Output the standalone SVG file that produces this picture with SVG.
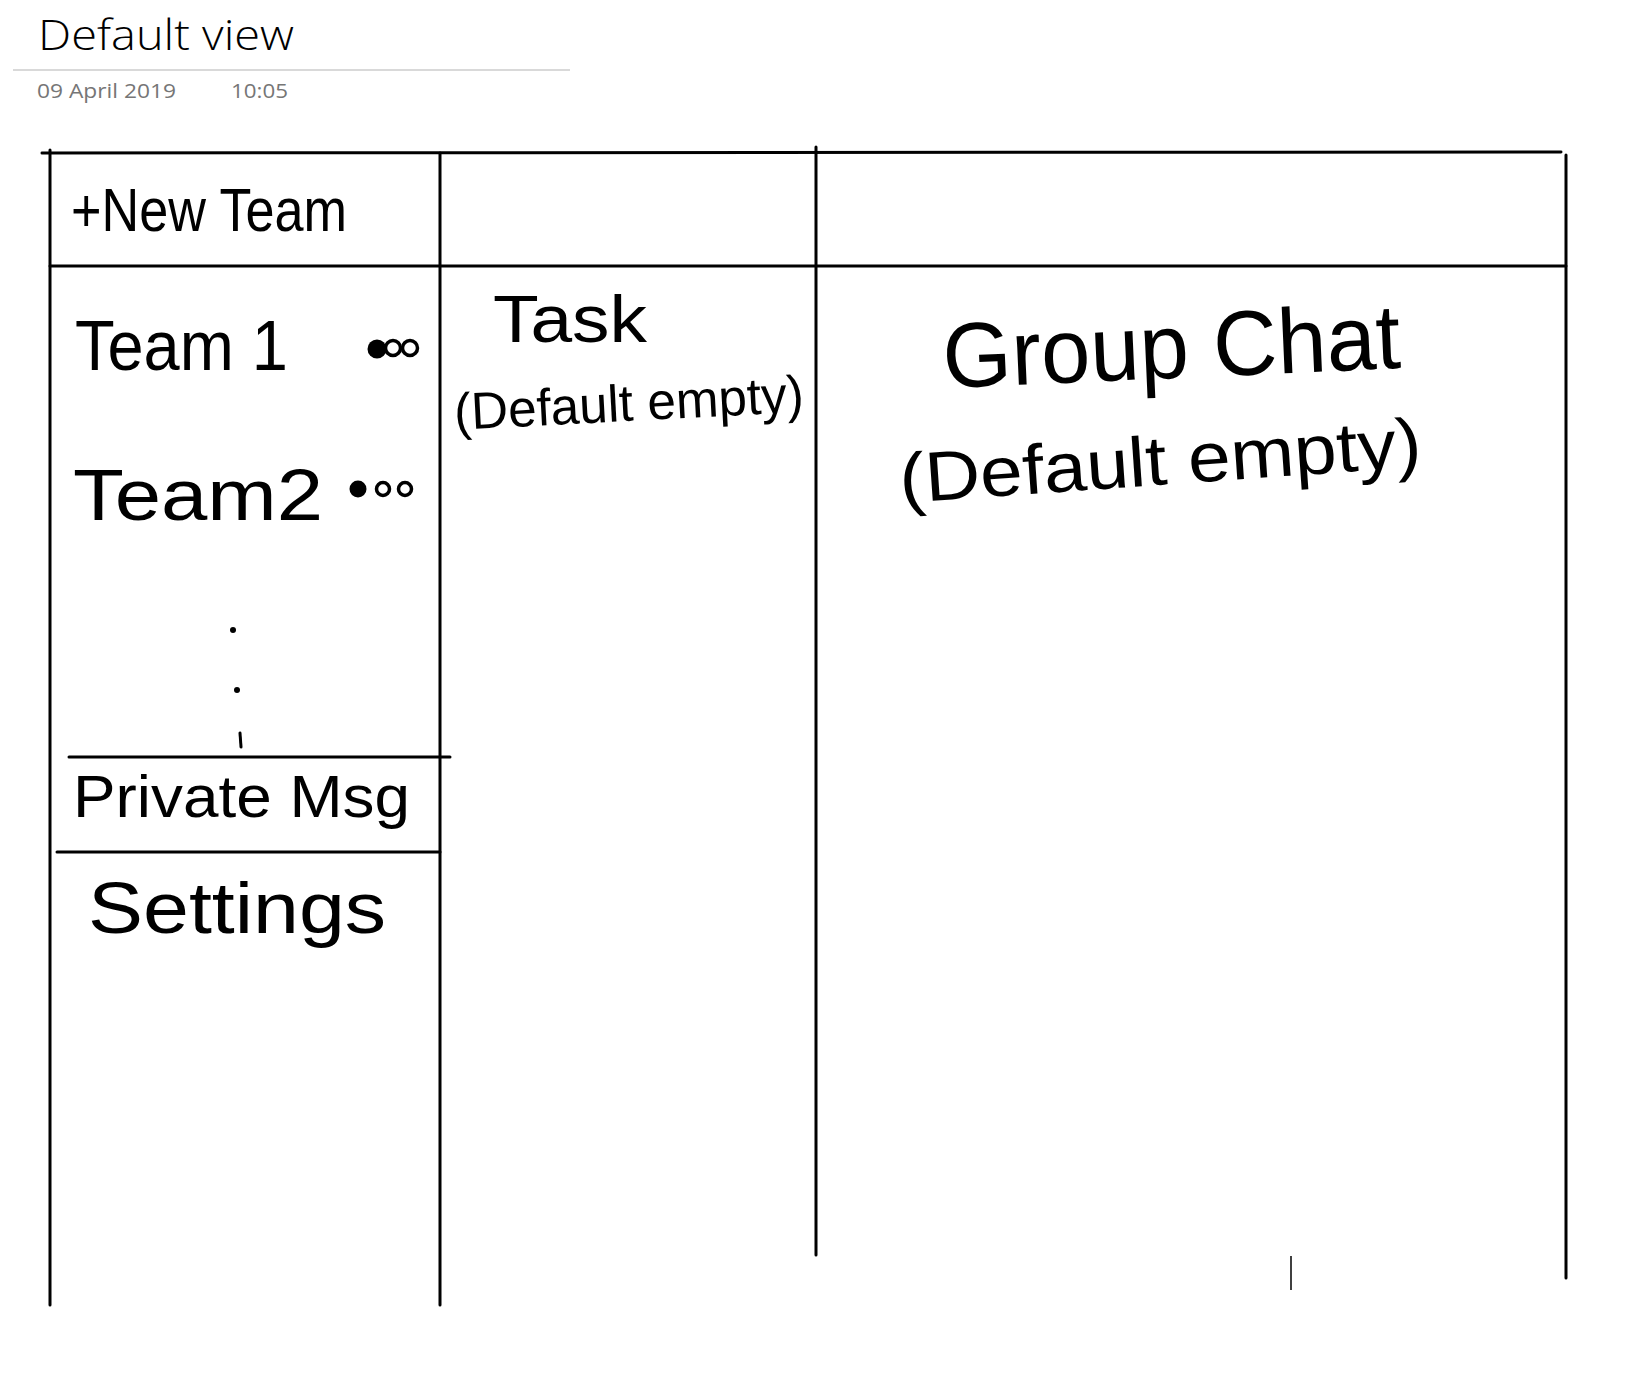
<svg xmlns="http://www.w3.org/2000/svg" width="1652" height="1398" viewBox="0 0 1652 1398">
<style>
  .ln { stroke:#000; stroke-width:3; stroke-linecap:round; fill:none; }
  .hw { font-family:"Liberation Sans","DejaVu Sans",sans-serif; fill:#000; }
  .meta { font-family:"Open Sans","Liberation Sans",sans-serif; fill:#767676; font-size:20px; }
  .dotf { fill:#000; }
  .doto { fill:none; stroke:#000; stroke-width:3.5; }
</style>
<rect width="1652" height="1398" fill="#fff"/>

<g id="page-header">
  <text x="38" y="50" font-family="Open Sans, Liberation Sans, sans-serif" font-weight="300" font-size="42" fill="#000" textLength="256" lengthAdjust="spacingAndGlyphs">Default view</text>
  <line x1="13" y1="70" x2="570" y2="70" stroke="#d9d9d9" stroke-width="2"/>
  <text class="meta" x="37" y="98" textLength="139" lengthAdjust="spacingAndGlyphs">09 April 2019</text>
  <text class="meta" x="231" y="98" textLength="57" lengthAdjust="spacingAndGlyphs">10:05</text>
</g>

<g id="connectors">
  <line class="ln" x1="42" y1="153" x2="1561" y2="152"/>
  <line class="ln" x1="50" y1="266" x2="1566" y2="266"/>
  <line class="ln" x1="50" y1="150" x2="50" y2="1305"/>
  <line class="ln" x1="440" y1="153" x2="440" y2="1305"/>
  <line class="ln" x1="816" y1="147" x2="816" y2="1255"/>
  <line class="ln" x1="1566" y1="155" x2="1566" y2="1278"/>
  <line class="ln" x1="69" y1="757" x2="450" y2="757"/>
  <line class="ln" x1="57" y1="852" x2="440" y2="852"/>
  <line x1="1291" y1="1256" x2="1291" y2="1290" stroke="#000" stroke-width="1.5"/>
</g>

<g id="new-team">
  <text class="hw" x="71" y="231" font-size="62" textLength="276" lengthAdjust="spacingAndGlyphs">+New Team</text>
</g>

<g id="team-1">
  <text class="hw" x="75" y="370" font-size="70" textLength="213" lengthAdjust="spacingAndGlyphs">Team 1</text>
  <circle class="dotf" cx="377" cy="349" r="9.5"/>
  <circle class="doto" cx="393" cy="348" r="7.5"/>
  <circle class="doto" cx="410" cy="348" r="7.5"/>
</g>

<g id="team-2">
  <text class="hw" x="73" y="520" font-size="72" textLength="250" lengthAdjust="spacingAndGlyphs">Team2</text>
  <circle class="dotf" cx="358" cy="489" r="8.5"/>
  <circle class="doto" cx="383" cy="489" r="6.5"/>
  <circle class="doto" cx="405" cy="489" r="6.5"/>
</g>

<g id="more-teams">
  <circle cx="233" cy="630" r="3" fill="#000"/>
  <circle cx="237" cy="690" r="3" fill="#000"/>
  <line class="ln" x1="240" y1="733" x2="241" y2="747" stroke-width="4"/>
</g>

<g id="private-msg">
  <text class="hw" x="73" y="817" font-size="60" textLength="337" lengthAdjust="spacingAndGlyphs">Private Msg</text>
</g>

<g id="settings">
  <text class="hw" x="88" y="933" font-size="72" textLength="298" lengthAdjust="spacingAndGlyphs">Settings</text>
</g>

<g id="task">
  <text class="hw" x="493" y="342" font-size="66" textLength="154" lengthAdjust="spacingAndGlyphs">Task</text>
  <text class="hw" x="455" y="430" font-size="52" textLength="350" lengthAdjust="spacingAndGlyphs" transform="rotate(-3 455 430)">(Default empty)</text>
</g>

<g id="group-chat">
  <text class="hw" x="944" y="388" font-size="92" textLength="458" lengthAdjust="spacingAndGlyphs" transform="rotate(-2.5 944 388)">Group Chat</text>
  <text class="hw" x="901" y="503" font-size="70" textLength="523" lengthAdjust="spacingAndGlyphs" transform="rotate(-4 901 503)">(Default empty)</text>
</g>
</svg>
